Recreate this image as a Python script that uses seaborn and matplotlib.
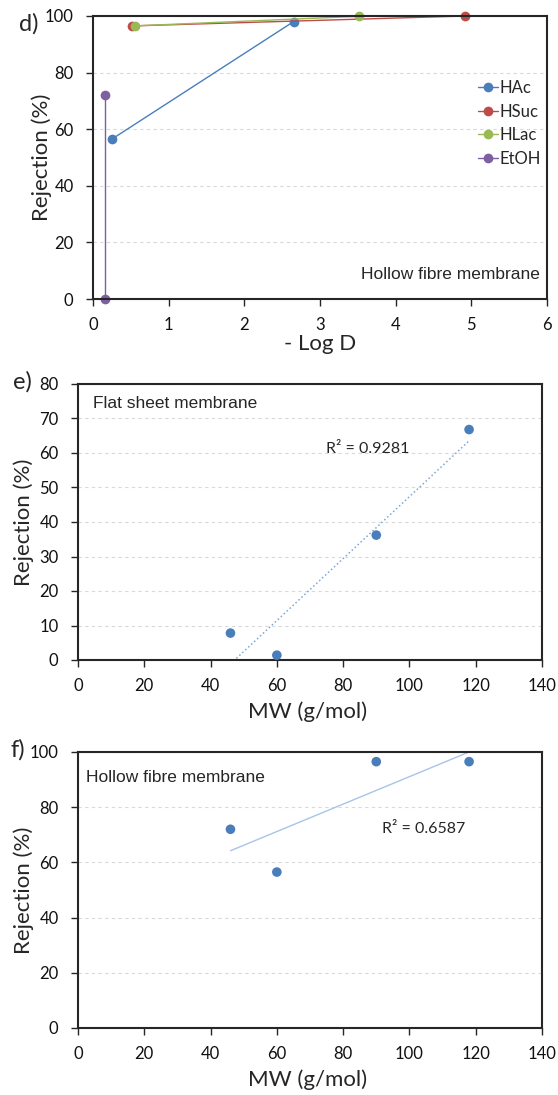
import numpy as np
import pandas as pd
import matplotlib
matplotlib.use("Agg")
import matplotlib.pyplot as plt
import seaborn as sns

# ---------------- data ----------------
hac_logd = [0.25, 2.65]
hac_rej = [56.5, 98.0]
hsuc_logd = [0.52, 4.91]
hsuc_rej = [96.5, 100.0]
hlac_logd = [0.55, 3.52]
hlac_rej = [96.5, 99.9]
etoh_logd = [0.16, 0.16]
etoh_rej = [72.0, 0.0]
species = ["HAc", "HSuc", "HLac", "EtOH"]

mw = [46, 60, 90, 118]
flat_rej = [7.8, 1.4, 36.2, 66.8]
hollow_rej = [72.0, 56.5, 96.5, 96.5]

d_xticks = [0, 1, 2, 3, 4, 5, 6]
d_yticks = [0, 20, 40, 60, 80, 100]
e_yticks = [0, 10, 20, 30, 40, 50, 60, 70, 80]
f_yticks = [0, 20, 40, 60, 80, 100]
mw_xticks = [0, 20, 40, 60, 80, 100, 120, 140]

# ---------------- style ----------------
sns.set_theme(style="white")
plt.rcParams["font.family"] = ["Lato", "DejaVu Sans"]

colors = {"HAc": "#4a7ebb", "HSuc": "#be4b48", "HLac": "#98b954", "EtOH": "#7d60a0"}
pt_color = "#4a7ebb"
spine_c = "#262626"
grid_kw = dict(color="#d9d9d9", linestyle=(0, (3, 3)), linewidth=0.8)

W, H = 558, 1095
fig = plt.figure(figsize=(W / 100, H / 100), dpi=100)


def px_axes(l, t, r, b):
    return fig.add_axes([l / W, 1 - b / H, (r - l) / W, (b - t) / H])


def style_ax(ax):
    for s in ax.spines.values():
        s.set_color(spine_c)
        s.set_linewidth(1.5)
    ax.tick_params(axis="both", which="major", direction="out", length=5,
                   width=1, color=spine_c, labelsize=12, labelcolor="#111111",
                   bottom=True, left=True)
    ax.tick_params(axis="x", pad=8)
    ax.tick_params(axis="y", pad=9)
    ax.yaxis.grid(True, **grid_kw)
    ax.xaxis.grid(False)
    ax.set_axisbelow(True)


# ---------------- panel d ----------------
axd = px_axes(93, 16, 547, 299)
df_d = pd.concat([
    pd.DataFrame({"logd": hac_logd, "rej": hac_rej, "sp": "HAc"}),
    pd.DataFrame({"logd": hsuc_logd, "rej": hsuc_rej, "sp": "HSuc"}),
    pd.DataFrame({"logd": hlac_logd, "rej": hlac_rej, "sp": "HLac"}),
    pd.DataFrame({"logd": etoh_logd, "rej": etoh_rej, "sp": "EtOH"}),
], ignore_index=True)
sns.lineplot(data=df_d, x="logd", y="rej", hue="sp", hue_order=species,
             palette=colors, estimator=None, sort=False, marker="o",
             markersize=7, markeredgewidth=0, linewidth=1.0, ax=axd,
             clip_on=False)
axd.set_xlim(0, 6)
axd.set_ylim(0, 100)
axd.set_xticks(d_xticks)
axd.set_yticks(d_yticks)
style_ax(axd)
axd.set_xlabel("- Log D", fontsize=16)
axd.xaxis.set_label_coords(0.5, -0.125)
axd.set_ylabel("Rejection (%)", fontsize=16)
axd.yaxis.set_label_coords(-0.09, 0.5)
leg = axd.legend(loc="center left", bbox_to_anchor=(0.815, 0.62), frameon=False,
                 fontsize=12, handlelength=1.2, handletextpad=0.1,
                 labelspacing=0.45)
axd.text(0.985, 0.06, "Hollow fibre membrane", transform=axd.transAxes,
         ha="right", va="bottom", fontsize=12.5, family=["Liberation Sans"])
fig.text(29 / W, 1 - 24 / H, "d)", fontsize=17, ha="center", va="center")

# ---------------- panel e ----------------
axe = px_axes(78, 384, 542, 660)
df_e = pd.DataFrame({"mw": mw, "rej": flat_rej})
sns.regplot(data=df_e, x="mw", y="rej", scatter=False, ci=None, truncate=True,
            color="#7ea6d8", line_kws=dict(linestyle=":", linewidth=1.1), ax=axe)
sns.scatterplot(data=df_e, x="mw", y="rej", color=pt_color, s=48,
                edgecolor="none", ax=axe, zorder=3)
axe.set_xlim(0, 140)
axe.set_ylim(0, 80)
axe.set_xticks(mw_xticks)
axe.set_yticks(e_yticks)
style_ax(axe)
axe.set_xlabel("MW (g/mol)", fontsize=16)
axe.xaxis.set_label_coords(0.495, -0.15)
axe.set_ylabel("Rejection (%)", fontsize=16)
axe.yaxis.set_label_coords(-0.095, 0.5)
axe.text(0.033, 0.955, "Flat sheet membrane", transform=axe.transAxes,
         ha="left", va="top", fontsize=12.5, family=["Liberation Sans"])
axe.text(0.535, 0.765, "R² = 0.9281", transform=axe.transAxes,
         ha="left", va="center", fontsize=11.5)
fig.text(22 / W, 1 - 382 / H, "e)", fontsize=17, ha="center", va="center")

# ---------------- panel f ----------------
axf = px_axes(78, 752, 542, 1028)
df_f = pd.DataFrame({"mw": mw, "rej": hollow_rej})
sns.regplot(data=df_f, x="mw", y="rej", scatter=False, ci=None, truncate=True,
            color="#a9c4e6", line_kws=dict(linestyle="-", linewidth=1.0), ax=axf)
sns.scatterplot(data=df_f, x="mw", y="rej", color=pt_color, s=48,
                edgecolor="none", ax=axf, zorder=3)
axf.set_xlim(0, 140)
axf.set_ylim(0, 100)
axf.set_xticks(mw_xticks)
axf.set_yticks(f_yticks)
style_ax(axf)
axf.set_xlabel("MW (g/mol)", fontsize=16)
axf.xaxis.set_label_coords(0.495, -0.15)
axf.set_ylabel("Rejection (%)", fontsize=16)
axf.yaxis.set_label_coords(-0.095, 0.5)
axf.text(0.018, 0.935, "Hollow fibre membrane", transform=axf.transAxes,
         ha="left", va="top", fontsize=12.5, family=["Liberation Sans"])
axf.text(0.655, 0.72, "R² = 0.6587", transform=axf.transAxes,
         ha="left", va="center", fontsize=11.5)
fig.text(18 / W, 1 - 750 / H, "f)", fontsize=17, ha="center", va="center")

fig.savefig("out.png", dpi=100)
